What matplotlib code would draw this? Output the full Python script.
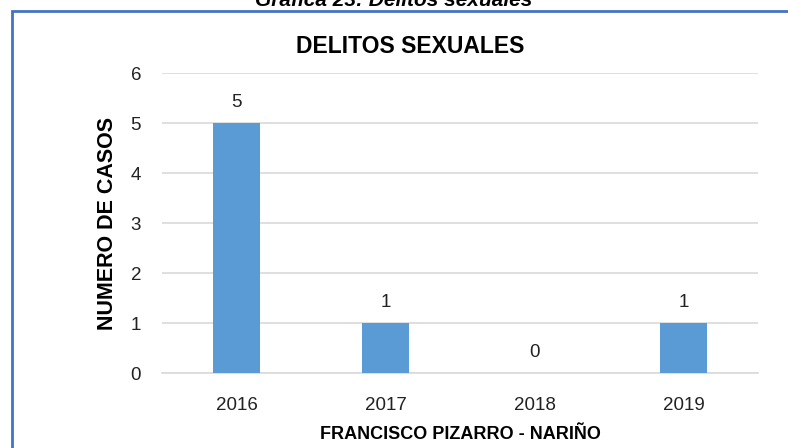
import matplotlib.pyplot as plt
from matplotlib.patches import Rectangle

years = ['2016', '2017', '2018', '2019']
casos = [5, 1, 0, 1]

plt.rcParams['font.family'] = ['Liberation Sans', 'DejaVu Sans']

fig = plt.figure(figsize=(7.88, 4.48), dpi=100)
ax = fig.add_axes([0.2056, 0.1674, 0.7564, 0.6696])

x = range(len(years))
ax.bar(x, casos, width=0.32, color='#5B9BD5', zorder=3)
for xi, v in zip(x, casos):
    ax.text(xi, v + 0.25, str(v), ha='center', va='bottom', fontsize=13.5, color='#222222')

ax.set_xlim(-0.5, len(years) - 0.5)
ax.set_ylim(0, 6)
ax.set_yticks(range(7))
ax.set_xticks(list(x))
ax.set_xticklabels(years)
ax.tick_params(axis='both', length=0, labelsize=13.5, colors='#222222')
ax.tick_params(axis='y', pad=15)
ax.tick_params(axis='x', pad=17)
ax.grid(axis='y', color='#D9D9D9', linewidth=1.2, zorder=0)
for s in ['top', 'right', 'left']:
    ax.spines[s].set_visible(False)
ax.spines['bottom'].set_color('#D9D9D9')
ax.spines['bottom'].set_linewidth(1.2)

ax.set_ylabel('NUMERO DE CASOS', fontsize=15.5, fontweight='bold', labelpad=9)
ax.set_xlabel('FRANCISCO PIZARRO - NARIÑO', fontsize=13, fontweight='bold', labelpad=9)

fig.text(410 / 788, 1 - 46.5 / 448, 'DELITOS SEXUALES', ha='center', va='center',
         fontsize=16.5, fontweight='bold')
fig.text(0.50, 1 - 6 / 448, 'Gráfica 23: Delitos sexuales', ha='center', va='baseline',
         fontsize=15, fontweight='bold', style='italic')

fig.patches.append(Rectangle((12 / 788, -0.05), 1.0, 1 - 11 / 448 + 0.05,
                             transform=fig.transFigure, fill=False,
                             edgecolor='#4472C4', linewidth=2))

fig.savefig('out.png', dpi=100)
